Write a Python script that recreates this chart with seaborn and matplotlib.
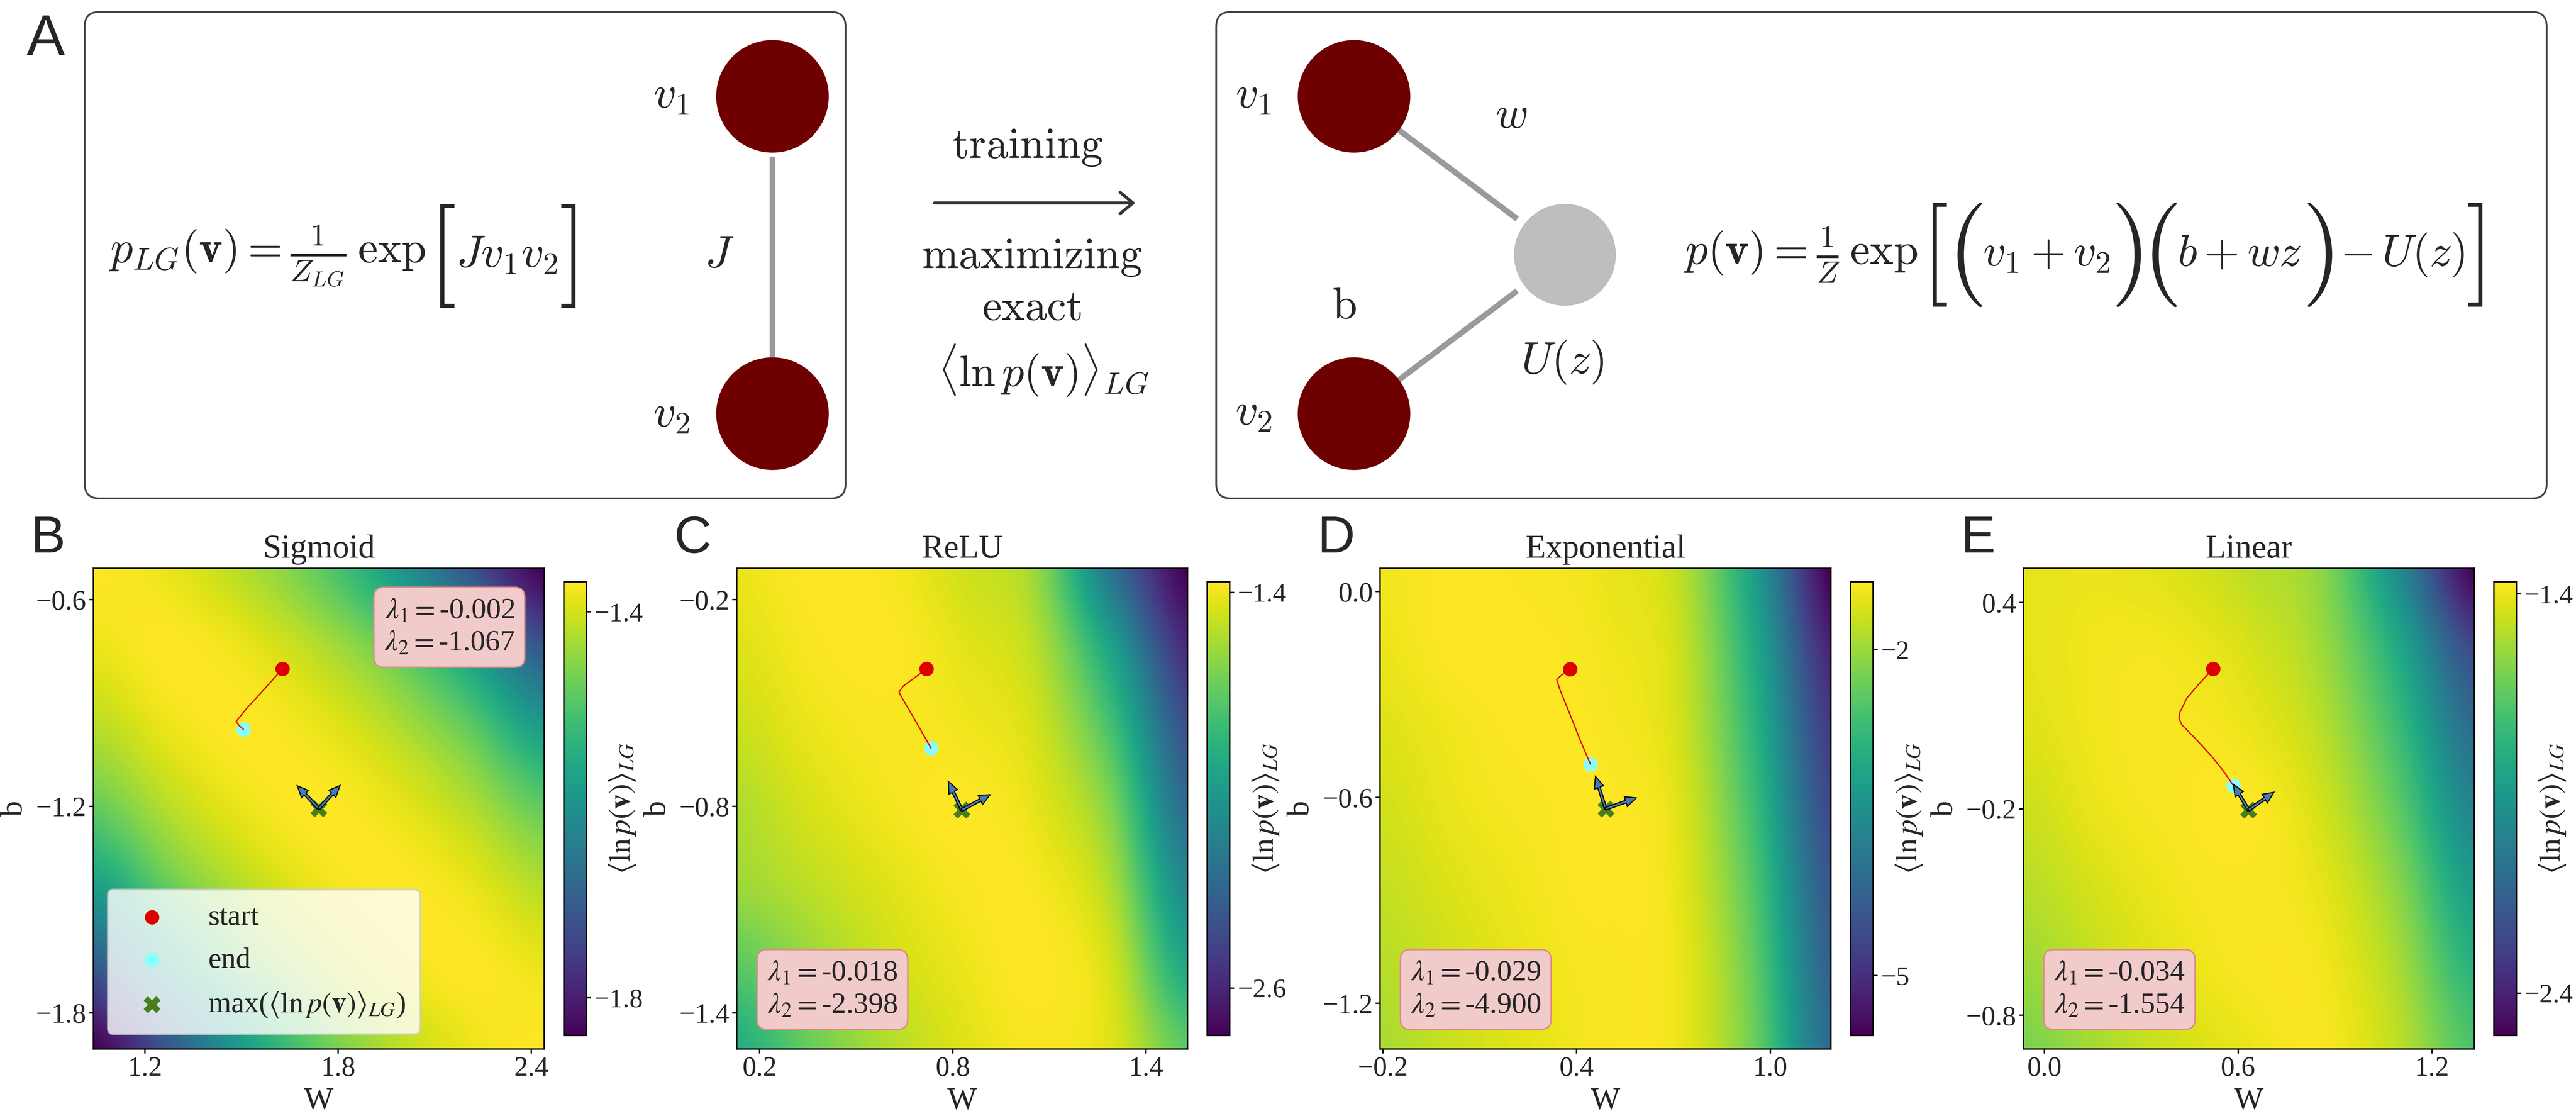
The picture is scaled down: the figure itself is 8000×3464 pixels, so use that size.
import numpy as np
import matplotlib.pyplot as plt
import seaborn as sns
from matplotlib.patches import FancyBboxPatch, Circle
from matplotlib.ticker import FuncFormatter

sns.set_theme(style="white")
plt.rcParams["font.family"] = ["Liberation Serif", "DejaVu Serif"]
plt.rcParams["mathtext.fontset"] = "stix"

W_PX, H_PX = 8000, 3464

# ---------------- landscape data ----------------
titles = ["Sigmoid", "ReLU", "Exponential", "Linear"]
letters = ["B", "C", "D", "E"]

x_lims = [(1.04, 2.44), (0.129, 1.529), (-0.209, 1.188), (-0.065, 1.331)]
y_lims = [(-1.905, -0.509), (-1.505, -0.109), (-1.333, 0.068), (-0.898, 0.4995)]
color_lims = [(-1.839, -1.369), (-2.744, -1.368), (-5.55, -1.378), (-2.506, -1.370)]

x_ticks = [[1.2, 1.8, 2.4], [0.2, 0.8, 1.4], [-0.2, 0.4, 1.0], [0.0, 0.6, 1.2]]
y_ticks = [[-0.6, -1.2, -1.8], [-0.2, -0.8, -1.4], [0.0, -0.6, -1.2], [0.4, -0.2, -0.8]]
cbar_ticks = [[-1.4, -1.8], [-1.4, -2.6], [-2, -5], [-1.4, -2.4]]

# <ln p(v)>_LG on a 7x7 grid spanning the axes, rows top -> bottom, columns left -> right
sigmoid_ll = [
    [-1.369, -1.383, -1.421, -1.482, -1.580, -1.712, -1.839],
    [-1.383, -1.369, -1.383, -1.421, -1.482, -1.580, -1.712],
    [-1.421, -1.383, -1.369, -1.383, -1.421, -1.482, -1.580],
    [-1.482, -1.421, -1.383, -1.369, -1.383, -1.421, -1.482],
    [-1.580, -1.482, -1.421, -1.383, -1.369, -1.383, -1.421],
    [-1.712, -1.580, -1.482, -1.421, -1.383, -1.369, -1.383],
    [-1.839, -1.712, -1.580, -1.482, -1.421, -1.383, -1.369],
]
relu_ll = [
    [-1.409, -1.368, -1.382, -1.464, -1.588, -2.220, -2.744],
    [-1.437, -1.382, -1.368, -1.423, -1.519, -1.960, -2.579],
    [-1.478, -1.409, -1.382, -1.395, -1.464, -1.780, -2.400],
    [-1.533, -1.451, -1.395, -1.368, -1.423, -1.640, -2.262],
    [-1.574, -1.506, -1.437, -1.382, -1.382, -1.540, -2.097],
    [-1.726, -1.588, -1.478, -1.409, -1.368, -1.464, -1.918],
    [-1.891, -1.684, -1.533, -1.437, -1.382, -1.437, -1.712],
]
exponential_ll = [
    [-1.461, -1.378, -1.420, -1.503, -1.795, -3.255, -5.550],
    [-1.503, -1.378, -1.378, -1.461, -1.712, -3.047, -5.133],
    [-1.587, -1.461, -1.378, -1.420, -1.670, -2.880, -4.841],
    [-1.670, -1.503, -1.420, -1.378, -1.587, -2.713, -4.632],
    [-1.754, -1.587, -1.461, -1.378, -1.545, -2.546, -4.424],
    [-1.837, -1.670, -1.503, -1.420, -1.503, -2.421, -4.257],
    [-1.920, -1.712, -1.545, -1.420, -1.503, -2.338, -4.090],
]
linear_ll = [
    [-1.415, -1.404, -1.427, -1.484, -1.574, -1.961, -2.506],
    [-1.415, -1.393, -1.393, -1.438, -1.540, -1.824, -2.256],
    [-1.427, -1.393, -1.381, -1.404, -1.495, -1.734, -2.108],
    [-1.461, -1.404, -1.381, -1.370, -1.450, -1.654, -1.995],
    [-1.495, -1.438, -1.393, -1.381, -1.415, -1.574, -1.881],
    [-1.540, -1.472, -1.415, -1.381, -1.393, -1.518, -1.779],
    [-1.597, -1.518, -1.450, -1.404, -1.381, -1.484, -1.688],
]
landscapes = [sigmoid_ll, relu_ll, exponential_ll, linear_ll]

# training trajectories (w, b)
path_w = [
    [1.627, 1.566, 1.515, 1.483, 1.493, 1.506],
    [0.718, 0.684, 0.646, 0.633, 0.639, 0.671, 0.703, 0.732],
    [0.380, 0.355, 0.338, 0.348, 0.380, 0.411, 0.443],
    [0.522, 0.479, 0.441, 0.420, 0.416, 0.425, 0.467, 0.517, 0.556, 0.585],
]
path_b = [
    [-0.801, -0.865, -0.917, -0.954, -0.966, -0.977],
    [-0.401, -0.425, -0.451, -0.469, -0.480, -0.531, -0.583, -0.631],
    [-0.226, -0.242, -0.256, -0.285, -0.359, -0.433, -0.503],
    [0.207, 0.164, 0.122, 0.082, 0.065, 0.045, 0.005, -0.046, -0.092, -0.132],
]
max_w = [1.740, 0.828, 0.490, 0.632]
max_b = [-1.207, -0.811, -0.633, -0.203]

# Hessian eigenvectors drawn at the maximum (dw, db)
eig1 = [(-0.067, 0.0665), (-0.042, 0.083), (-0.0316, 0.0946), (-0.047, 0.0744)]
eig2 = [(0.066, 0.0674), (0.088, 0.0446), (0.0948, 0.0319), (0.0788, 0.0515)]
lambda1 = ["-0.002", "-0.018", "-0.029", "-0.034"]
lambda2 = ["-1.067", "-2.398", "-4.900", "-1.554"]

legend_labels = ["start", "end", r"max($\langle\ln p(\mathbf{v})\rangle_{LG}$)"]
cbar_label = r"$\langle\ln p(\mathbf{v})\rangle_{LG}$"

# equations of panel A: (piece, font size, gap before in px)
BIG = 58
eq_lg = [
    (r"$p_{LG}(\mathbf{v}) = \frac{1}{Z_{LG}}\,\exp$", 25, 0),
    (r"$[$", BIG, 8), (r"$Jv_1v_2$", 25, 4), (r"$]$", BIG, 4),
]
eq_rbm = [
    (r"$p(\mathbf{v}) = \frac{1}{Z}\,\exp$", 25, 0),
    (r"$[$", BIG, 8), (r"$($", BIG, 0), (r"$v_1+v_2$", 25, 2), (r"$)$", BIG, 2),
    (r"$($", BIG, 2), (r"$b+wz$", 25, 2), (r"$)$", BIG, 2),
    (r"$-\,U(z)$", 25, 26), (r"$]$", BIG, 4),
]

# ---------------- figure ----------------
fig = plt.figure(figsize=(20, 8.66), dpi=400)
renderer = fig.canvas.get_renderer()

# panel A is drawn in pixel coordinates on a full-figure canvas
ax0 = fig.add_axes([0, 0, 1, 1])
ax0.set_xlim(0, W_PX)
ax0.set_ylim(H_PX, 0)
ax0.axis("off")


def eq_row(xc, yc, pieces):
    """Lay out math pieces left to right, centred on (xc, yc)."""
    arts = [ax0.text(0, yc, s, fontsize=fs, math_fontfamily="cm", ha="left", va="center")
            for s, fs, _ in pieces]
    widths = [a.get_window_extent(renderer).width for a in arts]
    total = sum(widths) + sum(g for _, _, g in pieces)
    x = xc - total / 2
    for a, w, (_, _, g) in zip(arts, widths, pieces):
        x += g
        a.set_x(x)
        x += w


node_red = "#6e0000"
edge_grey = "#9a9a9a"
for x0, wid in [(263, 2363), (3777, 4132)]:
    ax0.add_patch(FancyBboxPatch((x0, 37), wid, 1510,
                                 boxstyle="round,pad=0,rounding_size=45",
                                 fc="none", ec="#444444", lw=1.0))

# left graph: two visible units coupled by J
ax0.plot([2399, 2399], [486, 1109], color=edge_grey, lw=3.2, solid_capstyle="butt")
for cy in (299, 1284):
    ax0.add_patch(Circle((2399, cy), 172, color=node_red, zorder=3))
mt = dict(math_fontfamily="cm", ha="center", va="center", fontsize=25)
ax0.text(2084, 300, r"$v_1$", **mt)
ax0.text(2084, 1290, r"$v_2$", **mt)
ax0.text(2234, 795, r"$J$", **mt)
eq_row(1063, 795, eq_lg)

# middle: training arrow
ax0.annotate("", xy=(3537, 630), xytext=(2891, 630),
             arrowprops=dict(arrowstyle="->,head_length=0.6,head_width=0.5",
                             color="#363636", lw=1.7))
mid = dict(math_fontfamily="cm", ha="center", va="center", fontsize=24.5)
ax0.text(3190, 458, r"$\mathrm{training}$", **mid)
ax0.text(3205, 800, r"$\mathrm{maximizing}$", **mid)
ax0.text(3204, 960, r"$\mathrm{exact}$", **mid)
ax0.text(3240, 1150, r"$\langle\ln p(\mathbf{v})\rangle_{LG}$", **mid)

# right graph: visible units coupled through a hidden unit
for cy in (299, 1284):
    ax0.plot([4205, 4860], [cy, 791], color=edge_grey, lw=3.2, zorder=1)
    ax0.add_patch(Circle((4205, cy), 172, color=node_red, zorder=3))
ax0.add_patch(Circle((4860, 791), 172, fc="#bebebe", ec="white", lw=5, zorder=3))
ax0.text(3892, 300, r"$v_1$", **mt)
ax0.text(3892, 1284, r"$v_2$", **mt)
ax0.text(4693, 363, r"$w$", **mt)
ax0.text(4174, 955, r"$\mathrm{b}$", **mt)
ax0.text(4852, 1124, r"$U(z)$", **mt)
eq_row(6470, 791, eq_rbm)

fig.text(83 / W_PX, 1 - 171 / H_PX, "A", fontsize=32, family="Liberation Sans",
         ha="left", va="baseline")

# ---------------- panels B-E ----------------
fmt1 = FuncFormatter(lambda v, p: f"{v:.1f}".replace("-", "\u2212"))
ax_w, ax_h = 1400 / W_PX, 1492 / H_PX
ax_bottom = 1 - 3256 / H_PX
PAD = 2  # repeat the border samples so the smooth resampling has no edge effects

for i in range(4):
    left_px = 290 + 1998 * i
    ax = fig.add_axes([left_px / W_PX, ax_bottom, ax_w, ax_h])

    grid = np.pad(np.asarray(landscapes[i]), PAD, mode="edge")
    nr, nc = np.asarray(landscapes[i]).shape
    xl, yl, cl = x_lims[i], y_lims[i], color_lims[i]
    dx = (xl[1] - xl[0]) / (nc - 1)
    dy = (yl[1] - yl[0]) / (nr - 1)
    ext = [xl[0] - (PAD + 0.5) * dx, xl[1] + (PAD + 0.5) * dx,
           yl[0] - (PAD + 0.5) * dy, yl[1] + (PAD + 0.5) * dy]
    im = ax.imshow(grid, cmap="viridis", vmin=cl[0], vmax=cl[1], origin="upper",
                   extent=ext, interpolation="catrom", interpolation_stage="data",
                   aspect="auto", zorder=0)

    # trajectory and markers
    sns.scatterplot(x=[path_w[i][-1]], y=[path_b[i][-1]], color="#88ffff", s=65,
                    linewidth=0, ax=ax, zorder=3, label=legend_labels[1])
    sns.lineplot(x=path_w[i], y=path_b[i], sort=False, estimator=None,
                 color="#e00000", linewidth=0.7, ax=ax, zorder=4)
    sns.scatterplot(x=[path_w[i][0]], y=[path_b[i][0]], color="#dd0000", s=65,
                    linewidth=0, ax=ax, zorder=5, label=legend_labels[0])
    sns.scatterplot(x=[max_w[i]], y=[max_b[i]], color="#4a7d1e", s=90, marker="X",
                    linewidth=0, ax=ax, zorder=5, label=legend_labels[2])
    for vec in (eig1[i], eig2[i]):
        ax.arrow(max_w[i], max_b[i], vec[0], vec[1], width=0.008, head_width=0.03,
                 head_length=0.034, length_includes_head=True, fc="#4a78b8",
                 ec="black", lw=0.6, zorder=6)

    ax.set_xlim(xl)
    ax.set_ylim(yl)
    ax.set_xticks(x_ticks[i])
    ax.set_yticks(y_ticks[i])
    ax.xaxis.set_major_formatter(fmt1)
    ax.yaxis.set_major_formatter(fmt1)
    ax.tick_params(labelsize=15.5, bottom=True, left=True, length=2.5, width=0.8,
                   color="black", pad=1.5)
    for sp in ax.spines.values():
        sp.set_linewidth(0.8)
        sp.set_color("black")
    ax.set_xlabel("W", fontsize=17.5, labelpad=3)
    ax.set_ylabel("b", fontsize=17.5, labelpad=4)
    ax.set_title(titles[i], fontsize=18.5, pad=6)

    box_txt = rf"$\lambda_1=${lambda1[i]}" + "\n" + rf"$\lambda_2=${lambda2[i]}"
    box = dict(boxstyle="round,pad=0.35", fc="#f1caca", ec="#e08a8a", lw=0.8)
    if i == 0:
        ax.text(0.934, 0.939, box_txt, transform=ax.transAxes, ha="right", va="top",
                fontsize=16.5, bbox=box, linespacing=1.3, zorder=7)
        handles, labels = ax.get_legend_handles_labels()
        order = [labels.index(l) for l in legend_labels]
        ax.legend([handles[k] for k in order], legend_labels, loc="lower left",
                  bbox_to_anchor=(0.032, 0.031), borderaxespad=0, fontsize=16.5,
                  frameon=True, fancybox=True, framealpha=0.8, edgecolor="0.8",
                  handletextpad=0.9, labelspacing=0.55, borderpad=0.5)
    else:
        ax.text(0.068, 0.062, box_txt, transform=ax.transAxes, ha="left", va="bottom",
                fontsize=16.5, bbox=box, linespacing=1.3, zorder=7)
        leg = ax.get_legend()
        if leg is not None:
            leg.remove()

    cax = fig.add_axes([(left_px + 1461) / W_PX, 1 - 3214 / H_PX, 70 / W_PX, 1408 / H_PX])
    cb = fig.colorbar(im, cax=cax, ticks=cbar_ticks[i])
    cb.ax.tick_params(labelsize=15, right=True, length=2.5, width=0.8, color="black", pad=2)
    cb.outline.set_linewidth(0.8)
    cb.outline.set_edgecolor("black")
    cb.ax.text(2.59, 0.5, cbar_label, transform=cb.ax.transAxes, rotation=90,
               ha="center", va="center", fontsize=17)

    fig.text((96 + 1998 * i) / W_PX, 1 - 1715 / H_PX, letters[i], fontsize=29,
             family="Liberation Sans", ha="left", va="baseline")

fig.savefig("out.png", dpi=400)
plt.close(fig)
